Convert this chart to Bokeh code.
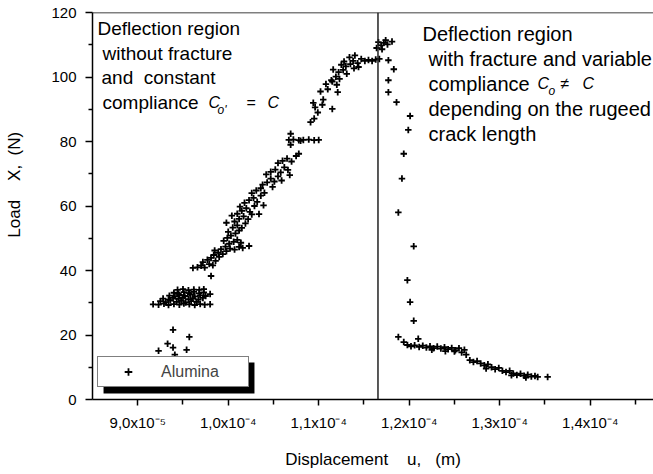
import numpy as np
from bokeh.plotting import figure
from bokeh.models import (FixedTicker, Span, Label, Legend, LegendItem,
                          BoxAnnotation, ColumnDataSource, Range1d)
from bokeh.embed import file_html
from bokeh.resources import INLINE

FONT = "Liberation Sans"
NB = "\u00a0"

# ---------------- data (displacement in micrometres, load in N) ----------------
# loading branch: deflection without fracture, constant compliance
loading_points = [
    (92.3, 15.1), (93.3, 17.3), (93.9, 16.1), (93.9, 21.6), (94.1, 13.9), (95.4, 15.4), (95.7, 19.4),
    (91.7, 29.5), (92.3, 29.4), (92.9, 29.7), (93.4, 29.3), (94.0, 29.6), (94.6, 29.4), (95.1, 29.8),
    (95.7, 29.5), (96.3, 29.3), (96.9, 29.6), (97.4, 29.4), (98.0, 29.5),
    (92.5, 30.5), (93.1, 30.2), (93.6, 30.7), (94.3, 30.3), (94.8, 30.6), (95.3, 30.1), (95.9, 30.5), (96.5, 30.3),
    (92.8, 31.3), (93.4, 31.0), (93.9, 31.5), (94.5, 31.2), (95.0, 31.6), (95.6, 31.1), (96.1, 31.4),
    (96.7, 31.0), (97.2, 31.5),
    (93.5, 32.2), (94.1, 32.0), (94.6, 32.4), (95.2, 32.1), (95.8, 32.5), (96.3, 32.0), (96.9, 32.3), (97.5, 32.1),
    (94.0, 33.1), (94.5, 32.8), (95.1, 33.3), (95.7, 33.0), (96.2, 33.4), (96.8, 32.9), (97.3, 33.2), (98.0, 32.7),
    (94.4, 34.0), (95.0, 34.2), (95.6, 33.9), (96.2, 34.1), (96.8, 34.0), (97.3, 34.2),
    (98.1, 38.3),
    (96.1, 40.8), (96.6, 41.0), (97.0, 41.5), (97.4, 40.9), (97.9, 42.0), (98.3, 41.6), (97.2, 42.6),
    (97.7, 43.3), (98.1, 43.9), (98.6, 43.0), (99.0, 44.2), (98.4, 44.8), (98.9, 45.5), (99.4, 45.1),
    (99.8, 46.0), (100.2, 46.8), (100.7, 46.5), (101.2, 47.3), (101.6, 47.0), (102.3, 47.6), (99.2, 46.6),
    (99.7, 47.4), (100.1, 48.3), (100.6, 48.9), (101.0, 49.5), (101.4, 48.6), (98.5, 46.2),
    (99.5, 49.2), (99.9, 50.1), (100.3, 50.8), (100.8, 51.5), (101.2, 52.4), (100.0, 52.0), (100.5, 53.3),
    (101.0, 54.0), (101.5, 53.2), (101.9, 54.6), (100.7, 55.2), (101.2, 56.0), (101.7, 56.8), (102.2, 55.9),
    (102.6, 57.4), (101.0, 57.6), (101.5, 58.5), (102.0, 59.3), (102.4, 58.2), (102.9, 60.0), (101.8, 61.0),
    (102.3, 61.8), (102.8, 62.5), (103.2, 61.3), (103.6, 63.2), (102.6, 64.0), (103.1, 64.8), (103.6, 65.5),
    (104.0, 64.1), (101.3, 59.8), (100.4, 57.0), (99.8, 54.8), (103.4, 57.5), (103.9, 60.2),
    (103.8, 66.6), (104.3, 67.3), (104.7, 68.5), (105.1, 67.6), (105.5, 69.2), (104.2, 69.8), (104.7, 70.6),
    (105.2, 71.3), (105.8, 70.4), (106.2, 72.0), (106.6, 71.2), (105.5, 73.3), (106.0, 74.0), (106.5, 74.7),
    (107.0, 73.8), (107.5, 75.5), (107.8, 76.2), (104.9, 65.9), (105.9, 67.9), (106.8, 69.6),
    (106.7, 80.5), (107.2, 80.6), (107.8, 80.4), (108.3, 80.5), (108.9, 80.6), (109.5, 80.4), (110.0, 80.5),
    (106.9, 79.0), (106.9, 82.4), (108.0, 80.2),
    (109.1, 86.0), (109.5, 87.1), (109.9, 89.0), (109.4, 92.0), (110.2, 95.5), (110.8, 97.8), (110.5, 93.0),
    (111.0, 96.2), (111.4, 99.0), (109.6, 90.6), (110.4, 91.4), (111.5, 90.1), (112.1, 95.3),
    (111.5, 98.6), (111.9, 100.1), (112.3, 99.4), (112.2, 101.5), (112.7, 102.2), (113.1, 101.0), (113.0, 103.3),
    (113.5, 104.0), (113.9, 102.7), (113.8, 105.0), (114.3, 104.3), (114.7, 105.6), (112.8, 104.8), (113.4, 106.1),
    (114.0, 106.7), (112.5, 103.8), (115.1, 105.0), (115.5, 105.3), (115.9, 105.0), (116.3, 105.4), (116.7, 105.6),
    (114.4, 103.1), (111.6, 102.3), (112.0, 97.6),
    (116.4, 109.0), (116.9, 109.8), (117.2, 110.6), (117.6, 110.1), (118.1, 111.0), (117.0, 108.6),
    (117.4, 111.4), (116.6, 110.8),
]

# fracture branch: deflection with fracture, variable compliance
fracture_points = [
    (117.7, 105.2), (118.3, 102.4), (117.7, 99.0), (117.7, 95.3), (118.6, 92.2), (120.1, 87.9), (119.9, 83.6),
    (119.4, 76.2), (119.2, 68.5), (118.8, 58.0), (120.5, 47.5), (119.8, 37.0), (120.1, 30.2), (120.5, 24.4),
    (118.8, 19.4),
    (119.4, 17.8), (119.8, 16.9), (120.2, 16.5), (120.6, 16.8), (121.0, 18.8), (121.1, 16.3), (121.5, 16.7),
    (121.9, 16.1), (122.3, 16.5), (122.7, 15.9), (123.1, 16.4), (123.5, 15.8), (123.9, 16.2), (124.3, 15.6),
    (124.7, 16.0), (125.1, 15.3), (125.5, 15.9), (125.8, 14.6), (126.1, 15.4), (126.3, 13.9), (125.0, 14.9),
    (124.0, 15.0), (122.5, 15.4), (126.7, 12.2), (127.1, 11.6), (127.5, 11.9), (127.9, 11.2), (128.3, 10.6),
    (128.7, 10.9), (129.1, 10.0), (128.5, 9.6), (129.5, 9.4), (129.9, 9.8), (130.3, 8.9), (130.7, 8.5),
    (131.1, 8.9), (131.5, 8.1), (131.9, 7.6), (132.3, 8.0), (132.7, 7.4), (133.1, 7.7), (133.5, 7.1),
    (133.9, 7.3), (134.2, 7.0), (135.3, 7.0), (131.3, 7.5), (132.9, 6.8),
]

series_name = "Alumina"
fracture_onset_um = 116.55

x_ticks = [90, 100, 110, 120, 130, 140]
x_tick_labels = ["9,0x10\u207b\u2075", "1,0x10\u207b\u2074", "1,1x10\u207b\u2074",
                 "1,2x10\u207b\u2074", "1,3x10\u207b\u2074", "1,4x10\u207b\u2074"]
x_minor_ticks = [95, 105, 115, 125, 135, 145]
y_ticks = [0, 20, 40, 60, 80, 100, 120]
y_minor_ticks = [10, 30, 50, 70, 90, 110]

disp = [pt[0] for pt in loading_points + fracture_points]
load = [pt[1] for pt in loading_points + fracture_points]
src = ColumnDataSource(dict(x=disp, y=load))

# ---------------- figure ----------------
p = figure(width=653, height=474, x_range=Range1d(85, 147.0), y_range=Range1d(0, 120),
           output_backend="svg", toolbar_location=None,
           min_border_left=92, min_border_right=0, min_border_top=12, min_border_bottom=75)
p.outline_line_color = None
p.xgrid.visible = False
p.ygrid.visible = False
p.background_fill_color = "white"
p.border_fill_color = "white"

r = p.scatter("x", "y", source=src, marker="cross", size=6.5, line_color="black", line_width=1.8)

for ax in (p.xaxis[0], p.yaxis[0]):
    ax.axis_line_color = "black"
    ax.axis_line_width = 1.5
    ax.major_tick_line_color = "black"
    ax.major_tick_line_width = 1.5
    ax.minor_tick_line_color = "black"
    ax.minor_tick_line_width = 1.5
    ax.major_tick_in = 0
    ax.minor_tick_in = 0
    ax.major_label_text_font = FONT
    ax.major_label_text_font_size = "15px"
    ax.major_label_text_color = "black"
    ax.axis_label_text_font = FONT
    ax.axis_label_text_font_size = "17px"
    ax.axis_label_text_font_style = "normal"
    ax.axis_label_text_color = "black"

p.xaxis.ticker = FixedTicker(ticks=x_ticks, minor_ticks=x_minor_ticks)
p.xaxis.major_label_overrides = dict(zip(x_ticks, x_tick_labels))
p.xaxis.major_tick_out = 6
p.xaxis.minor_tick_out = 5
p.xaxis.major_label_standoff = 8
p.xaxis.axis_label = "Displacement" + NB * 4 + "u," + NB * 3 + "(m)"
p.xaxis.axis_label_standoff = 16

p.yaxis.ticker = FixedTicker(ticks=y_ticks, minor_ticks=y_minor_ticks)
p.yaxis.major_tick_out = 7
p.yaxis.minor_tick_out = 4
p.yaxis.major_label_standoff = 9
p.yaxis.axis_label = NB * 9 + "Load" + NB * 4 + "X," + NB * 2 + "(N)"
p.yaxis.axis_label_standoff = 24

# top frame line and fracture onset line
p.add_layout(Span(location=120, dimension="width", line_color="black", line_width=1.5))
p.add_layout(Span(location=fracture_onset_um, dimension="height", line_color="#222222", line_width=1.5))

# legend with drop shadow
p.add_layout(BoxAnnotation(left=86.22, right=102.9, bottom=1.86, top=11.47,
                           fill_color="black", fill_alpha=1, line_color=None))
legend = Legend(items=[LegendItem(label=series_name, renderers=[r])], location=(5, 12),
                padding=5, glyph_width=50, glyph_height=19, label_height=19, label_width=82,
                label_standoff=8, spacing=0, margin=0,
                border_line_color="black", border_line_width=1.5,
                background_fill_color="white", background_fill_alpha=1,
                label_text_font=FONT, label_text_font_size="16px")
p.add_layout(legend)


def txt(s, x, y, size="19px", style="normal", align="left", angle=0.0):
    p.add_layout(Label(x=x, y=y, x_units="screen", y_units="screen", text=s,
                       text_font=FONT, text_font_size=size, text_font_style=style,
                       text_align=align, text_baseline="middle", angle=angle,
                       text_color="black"))


# left annotation
txt("Deflection region", 5, 371)
txt("without fracture", 10, 346)
txt("and" + NB * 2 + "constant", 9, 322)
txt("compliance", 10, 297)
txt("C", 116, 297, size="16px", style="italic")
txt("o'", 125, 290, size="12px", style="italic")
txt("=", 154, 297, size="16px")
txt("C", 175, 297, size="16px", style="italic")

# right annotation
txt("Deflection region", 330, 366, size="20px")
txt("with fracture and variable", 336, 341, size="20px")
txt("compliance", 336, 316, size="20px")
txt("C", 445, 316, size="16px", style="italic")
txt("o", 456, 309, size="12px", style="italic")
txt("\u2260", 468, 316, size="16px")
txt("C", 490, 316, size="16px", style="italic")
txt("depending on the rugeed", 336, 291, size="20px")
txt("crack length", 336, 266, size="20px")

open("out.html", "w").write(file_html(p, INLINE))
